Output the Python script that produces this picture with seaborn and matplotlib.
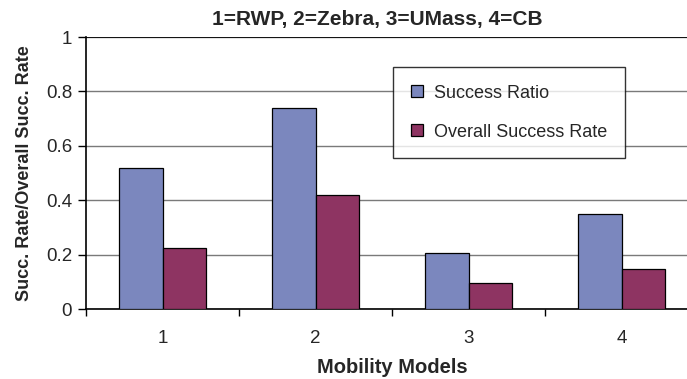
import matplotlib
matplotlib.use("Agg")
import matplotlib.pyplot as plt
import seaborn as sns
import pandas as pd
from matplotlib.ticker import FixedLocator

# Mobility models (1=RWP, 2=Zebra, 3=UMass, 4=CB)
models = ["1", "2", "3", "4"]
success_ratio = [0.52, 0.74, 0.207, 0.35]
overall_success_rate = [0.225, 0.42, 0.096, 0.148]
series_names = ["Success Ratio", "Overall Success Rate"]
yticks = [0, 0.2, 0.4, 0.6, 0.8, 1]
ytick_labels = ["0", "0.2", "0.4", "0.6", "0.8", "1"]

df = pd.DataFrame({
    "model": models * 2,
    "value": success_ratio + overall_success_rate,
    "series": [series_names[0]] * len(models) + [series_names[1]] * len(models),
})

sns.set_style("white")
plt.rcParams["font.family"] = ["Liberation Sans", "DejaVu Sans"]

fig = plt.figure(figsize=(6.87, 3.79), dpi=100)
ax = fig.add_axes([86 / 687, 70 / 379, 612 / 687, 272 / 379])

palette = {series_names[0]: "#7B87BE", series_names[1]: "#8E3462"}
sns.barplot(data=df, x="model", y="value", hue="series", order=models,
            hue_order=series_names, palette=palette, width=0.57, gap=0,
            edgecolor="black", linewidth=0.9, saturation=1, ax=ax, zorder=3)

ax.set_ylim(0, 1)
ax.set_xlim(-0.5, len(models) - 0.5)
ax.set_yticks(yticks)
ax.set_yticklabels(ytick_labels, fontsize=13.5)
ax.yaxis.grid(True, color="#7a7a7a", linewidth=1.0, zorder=0)
ax.axhline(1, color="black", linewidth=1.2, zorder=2)

ax.set_xticks(range(len(models)))
ax.set_xticklabels(models, fontsize=13.5)
ax.xaxis.set_minor_locator(FixedLocator([i - 0.5 for i in range(len(models) + 1)]))
ax.tick_params(axis="x", which="major", length=0, pad=15)
ax.tick_params(axis="x", which="minor", length=5, width=1, color="black", direction="out", bottom=True)
ax.tick_params(axis="y", length=6, width=1, color="black", direction="out", left=True, pad=4)

for side in ["top", "right"]:
    ax.spines[side].set_visible(False)
for side in ["left", "bottom"]:
    ax.spines[side].set_color("black")
    ax.spines[side].set_linewidth(1.2)

ax.set_xlabel("Mobility Models", fontsize=14.5, fontweight="bold", labelpad=8)
ax.set_ylabel("Succ. Rate/Overall Succ. Rate", fontsize=13, fontweight="bold", labelpad=9)

fig.text(377 / 687, 1 - 19 / 379, "1=RWP, 2=Zebra, 3=UMass, 4=CB",
         ha="center", va="center", fontsize=15, fontweight="bold")

ax.get_legend().remove()
handles = [plt.Rectangle((0, 0), 1, 1, facecolor=palette[s], edgecolor="black", linewidth=0.9)
           for s in series_names]
leg = fig.legend(handles, series_names, loc="upper left",
                 bbox_to_anchor=(393 / 687, 1 - 67 / 379),
                 fontsize=13, frameon=True, fancybox=False, edgecolor="black",
                 handlelength=0.67, handleheight=0.67, handletextpad=0.65,
                 labelspacing=1.22, borderpad=0.97, borderaxespad=0)
leg.get_frame().set_linewidth(1.0)

fig.savefig("out.png", dpi=100)
